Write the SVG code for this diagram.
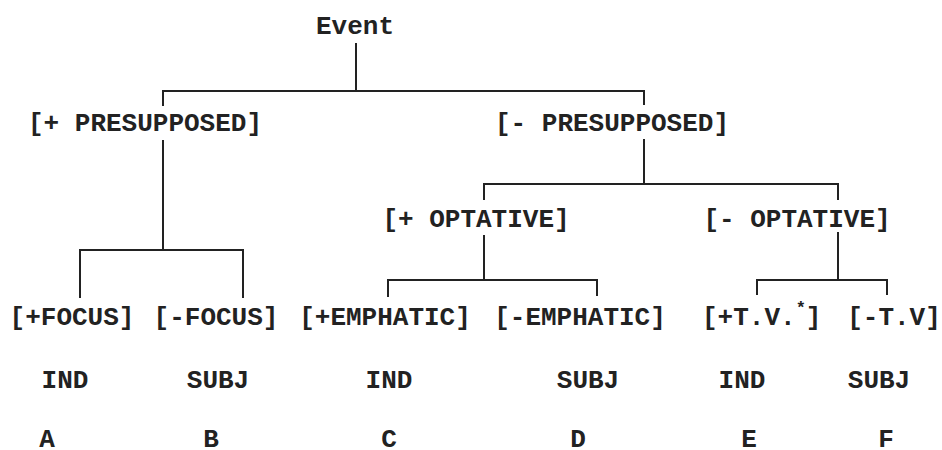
<svg xmlns="http://www.w3.org/2000/svg" width="942" height="450" viewBox="0 0 942 450">
<style>
text{font-family:"Liberation Mono","Courier New",monospace;font-size:26px;fill:#222;font-weight:bold;text-anchor:middle}
.st{text-anchor:start}
.sup{font-size:17px}
#connectors path{fill:none;stroke:#222;stroke-width:2}
</style>
<rect width="942" height="450" fill="#fff"/>
<g id="connectors">
<path d="M356 43V91M163 106V91H644V105"/>
<path d="M163 140V250M80 298V250H243V298"/>
<path d="M644 139V184M484 200V184H838V200"/>
<path d="M484 235V280M388 297V280H597V296"/>
<path d="M838 232V280M757 295V280H887V295"/>
</g>
<g id="event"><text x="355" y="34">Event</text></g>
<g id="plus-presupposed"><text x="145" y="131">[+ PRESUPPOSED]</text></g>
<g id="minus-presupposed"><text x="612" y="131">[- PRESUPPOSED]</text></g>
<g id="plus-optative"><text x="476" y="227">[+ OPTATIVE]</text></g>
<g id="minus-optative"><text x="797" y="227">[- OPTATIVE]</text></g>
<g id="plus-focus"><text x="72" y="325">[+FOCUS]</text><text x="65" y="388">IND</text><text x="47" y="447">A</text></g>
<g id="minus-focus"><text x="216" y="325">[-FOCUS]</text><text x="218" y="388">SUBJ</text><text x="211" y="447">B</text></g>
<g id="plus-emphatic"><text x="385" y="325">[+EMPHATIC]</text><text x="389" y="388">IND</text><text x="389" y="447">C</text></g>
<g id="minus-emphatic"><text x="580" y="325">[-EMPHATIC]</text><text x="588" y="388">SUBJ</text><text x="578" y="447">D</text></g>
<g id="plus-tv"><text class="st" x="702" y="325">[+T.V.<tspan class="sup" dy="-12">*</tspan><tspan dy="12">]</tspan></text><text x="742" y="388">IND</text><text x="749" y="447">E</text></g>
<g id="minus-tv"><text x="894" y="325">[-T.V]</text><text x="879" y="388">SUBJ</text><text x="886" y="447">F</text></g>
</svg>
